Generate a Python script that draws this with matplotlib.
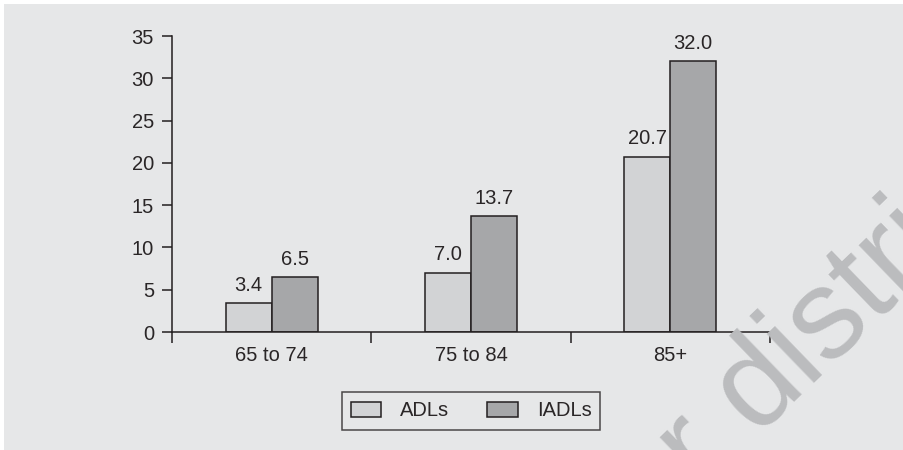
import matplotlib
matplotlib.use("Agg")
import matplotlib.pyplot as plt
from matplotlib.patches import Rectangle

# data
age_groups = ["65 to 74", "75 to 84", "85+"]
adls = [3.4, 7.0, 20.7]
iadls = [6.5, 13.7, 32.0]
series_names = ["ADLs", "IADLs"]

bg = "#e6e7e8"
edge = "#231f20"
txt = "#2a2627"
adl_color = "#d2d3d5"
iadl_color = "#a6a7a9"

plt.rcParams["font.family"] = ["Liberation Sans", "DejaVu Sans"]
plt.rcParams["font.size"] = 14.5

fig = plt.figure(figsize=(9.04, 4.5), dpi=100, facecolor="white")
fig.add_artist(Rectangle((4 / 904, 0), 1, 1 - 4 / 450, transform=fig.transFigure,
                         facecolor=bg, edgecolor="none", zorder=-10))

ax = fig.add_axes([172 / 904, 1 - 332 / 450, (770 - 172) / 904, (332 - 36) / 450])
ax.set_facecolor("none")
ax.set_zorder(1)

x = list(range(len(age_groups)))
w = 0.23
b1 = ax.bar([i - w / 2 for i in x], adls, w, color=adl_color, edgecolor=edge,
            linewidth=1.1, label=series_names[0])
b2 = ax.bar([i + w / 2 for i in x], iadls, w, color=iadl_color, edgecolor=edge,
            linewidth=1.1, label=series_names[1])

for bars, vals in ((b1, adls), (b2, iadls)):
    for r, v in zip(bars, vals):
        ax.annotate(f"{v:.1f}", (r.get_x() + r.get_width() / 2, v),
                    xytext=(0, 9), textcoords="offset points",
                    ha="center", va="baseline", color=txt)

ax.set_xlim(-0.5, len(age_groups) - 0.5)
ax.set_ylim(0, 35)
ax.set_yticks(range(0, 36, 5))

ax.set_xticks([i - 0.5 for i in range(len(age_groups) + 1)])
ax.set_xticklabels([])
ax.set_xticks(x, minor=True)
ax.set_xticklabels(age_groups, minor=True)
ax.tick_params(axis="x", which="major", direction="out", length=8, width=1.1, color=edge)
ax.tick_params(axis="x", which="minor", length=0, pad=10, labelcolor=txt)
ax.tick_params(axis="y", direction="out", length=7, width=1.1, color=edge,
               pad=6, labelcolor=txt)

for s in ("top", "right"):
    ax.spines[s].set_visible(False)
for s in ("left", "bottom"):
    ax.spines[s].set_color(edge)
    ax.spines[s].set_linewidth(1.1)

leg = fig.legend(loc="center", bbox_to_anchor=(471 / 904, 1 - 411 / 450), ncol=2,
                 frameon=True, fancybox=False, edgecolor=edge, facecolor=bg,
                 handlelength=1.5, handleheight=0.72, columnspacing=1.9,
                 borderpad=0.45, handletextpad=0.95, borderaxespad=0)
leg.get_frame().set_linewidth(1.1)
for t in leg.get_texts():
    t.set_color(txt)

# watermark
fig.text(778 / 904, 1 - 372 / 450, "or distri", fontsize=92, color="#bbbcbe",
         rotation=44, ha="center", va="center", zorder=5)

fig.savefig("out.png", dpi=100, facecolor=fig.get_facecolor())
